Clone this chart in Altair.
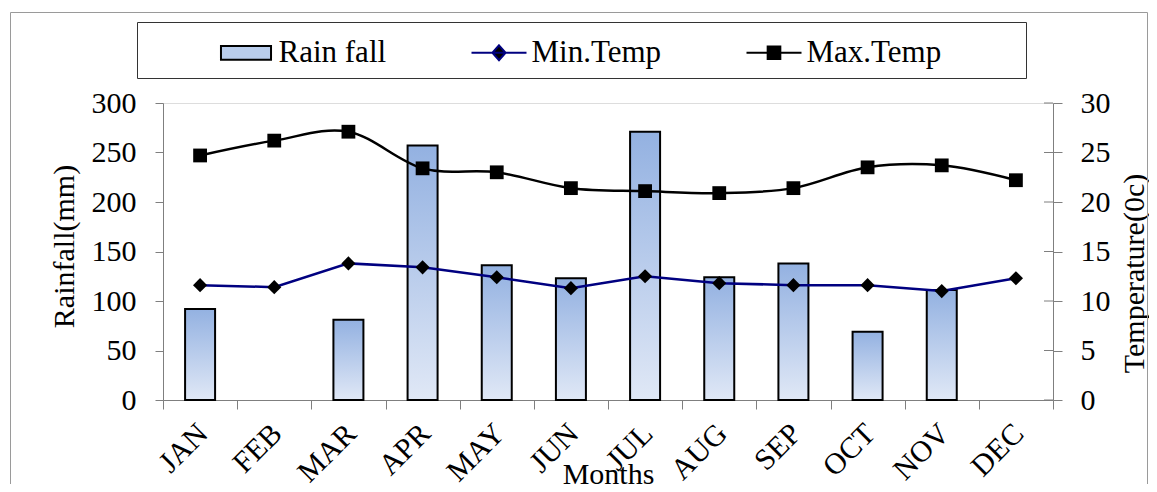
import altair as alt
import pandas as pd

# ---- data ----
months = ["JAN", "FEB", "MAR", "APR", "MAY", "JUN", "JUL", "AUG", "SEP", "OCT", "NOV", "DEC"]
rainfall_mm = [92, None, 81, 257, 136, 123, 271, 124, 138, 69, 111, None]
min_temp = [11.6, 11.4, 13.8, 13.4, 12.4, 11.3, 12.5, 11.8, 11.6, 11.6, 11.0, 12.3]
max_temp = [24.7, 26.2, 27.1, 23.4, 23.0, 21.4, 21.1, 20.9, 21.4, 23.5, 23.7, 22.2]
series_names = ["Rain fall", "Min.Temp", "Max.Temp"]
rain_ticks = [0, 50, 100, 150, 200, 250, 300]
temp_ticks = [0, 5, 10, 15, 20, 25, 30]

df = pd.DataFrame({"month": months, "rain": rainfall_mm, "tmin": min_temp, "tmax": max_temp})
legend_df = pd.DataFrame({"series": series_names})
tick_df = pd.DataFrame({"t": temp_ticks})
one_row = pd.DataFrame({"k": [1]})

FONT = "Liberation Serif"
AX_GRAY = "#7f7f7f"

x_enc = alt.X(
    "month:N",
    sort=months,
    scale=alt.Scale(paddingInner=0, paddingOuter=0),
    axis=alt.Axis(
        title="Months",
        labelAngle=-45,
        labelAlign="right",
        labelBaseline="top",
        labelPadding=9,
        labelOffset=-8,
        labelFont=FONT,
        labelFontSize=30,
        labelColor="black",
        tickBand="extent",
        tickSize=9,
        tickColor=AX_GRAY,
        domainColor=AX_GRAY,
        titleFont=FONT,
        titleFontSize=30,
        titleFontWeight="normal",
        titleColor="black",
        titleY=83,
        titleBaseline="alphabetic",
    ),
)

left_axis = alt.Axis(
    values=rain_ticks,
    title="Rainfall(mm)",
    grid=False,
    tickSize=8,
    tickColor=AX_GRAY,
    domainColor=AX_GRAY,
    labelPadding=19,
    labelFont=FONT,
    labelFontSize=30,
    labelColor="black",
    titleFont=FONT,
    titleFontSize=30,
    titleFontWeight="normal",
    titleColor="black",
    titleAngle=270,
    titleBaseline="bottom",
    titleAlign="center",
    titleX=-84,
    titleY=143,
)

right_axis = alt.Axis(
    orient="right",
    values=temp_ticks,
    title="Temperature(0c)",
    grid=False,
    tickSize=9,
    tickColor=AX_GRAY,
    domainColor=AX_GRAY,
    labelPadding=18,
    labelFont=FONT,
    labelFontSize=30,
    labelColor="black",
    titleFont=FONT,
    titleFontSize=30,
    titleFontWeight="normal",
    titleColor="black",
    titleAngle=270,
    titleBaseline="alphabetic",
    titleAlign="center",
    titleX=90,
    titleY=170,
)

# outer frame and legend box (decoration)
frame = alt.Chart(one_row).mark_rect(filled=False, stroke="#9a9a9a", strokeWidth=1).encode(
    x=alt.value(-152.5), x2=alt.value(984.5), y=alt.value(-90.5), y2=alt.value(600)
)
legend_box = alt.Chart(one_row).mark_rect(filled=False, stroke="#333333", strokeWidth=1).encode(
    x=alt.value(-25.5), x2=alt.value(863.5), y=alt.value(-80.5), y2=alt.value(-24.5)
)

grad = alt.Gradient(
    gradient="linear",
    stops=[
        alt.GradientStop(color="#93b1e1", offset=0),
        alt.GradientStop(color="#e0e8f6", offset=1),
    ],
    x1=0, x2=0, y1=0, y2=1,
)

bars = alt.Chart(df).mark_bar(size=30, fill=grad, stroke="black", strokeWidth=2).encode(
    x=x_enc,
    y=alt.Y("rain:Q", scale=alt.Scale(domain=[0, 300], nice=False), axis=left_axis),
)

yr_scale = alt.Scale(domain=[0, 30], nice=False)
base = alt.Chart(df)
max_line = base.mark_line(color="black", strokeWidth=2.5, interpolate="cardinal").encode(
    x=x_enc, y=alt.Y("tmax:Q", scale=yr_scale, axis=right_axis)
)
max_pts = base.mark_point(shape="square", filled=True, size=190, color="black", opacity=1).encode(
    x=x_enc, y=alt.Y("tmax:Q", scale=yr_scale, axis=right_axis)
)
min_line = base.mark_line(color="#000080", strokeWidth=2.5).encode(
    x=x_enc, y=alt.Y("tmin:Q", scale=yr_scale, axis=right_axis)
)
min_pts = base.mark_point(shape="diamond", filled=True, size=200, color="black", opacity=1).encode(
    x=x_enc, y=alt.Y("tmin:Q", scale=yr_scale, axis=right_axis)
)
# inner half of the right axis ticks (ticks cross the axis line in the reference)
inner_ticks = alt.Chart(tick_df).mark_rule(color=AX_GRAY, strokeWidth=1).encode(
    y=alt.Y("t:Q", scale=yr_scale, axis=right_axis),
    x=alt.value(881),
    x2=alt.value(890),
)
temps = alt.layer(max_line, max_pts, min_line, min_pts, inner_ticks)

# legend (real legend, symbols drawn from custom shape paths)
shape_paths = [
    "M-0.91,-0.25H0.91V0.25H-0.91Z",
    "M-1,0H1M0,-0.27L0.24,0L0,0.27L-0.24,0Z",
    "M-1,0H1M-0.23,-0.23H0.23V0.23H-0.23Z",
]
leg = alt.Legend(
    title=None,
    orient="none",
    legendX=54.5,
    legendY=-79,
    direction="horizontal",
    symbolSize=3025,
    symbolStrokeWidth=2,
    symbolOpacity=1,
    labelFont=FONT,
    labelFontSize=31,
    labelColor="black",
    labelOffset=4,
    labelLimit=0,
    columnPadding=81,
    padding=0,
)
legend_layer = alt.Chart(legend_df).mark_point(filled=True).encode(
    y=alt.value(-3000),
    shape=alt.Shape("series:N", scale=alt.Scale(domain=series_names, range=shape_paths), legend=leg),
    fill=alt.Fill("series:N", scale=alt.Scale(domain=series_names, range=["#b9cdec", "black", "black"]), legend=leg),
    stroke=alt.Stroke("series:N", scale=alt.Scale(domain=series_names, range=["black", "#000080", "black"]), legend=leg),
)

chart = (
    alt.layer(frame, legend_box, bars, temps, legend_layer)
    .resolve_scale(y="independent")
    .properties(
        width=890,
        height=297,
        padding={"left": 155, "top": 95, "right": 96, "bottom": 84},
        autosize=alt.AutoSizeParams(type="none"),
    )
    .configure_view(stroke=None)
    .configure(font=FONT)
    .configure_axis(labelFont=FONT, titleFont=FONT)
    .configure_legend(labelFont=FONT, titleFont=FONT)
)

chart.save("out.html", embed_options={"renderer": "svg", "actions": False})
